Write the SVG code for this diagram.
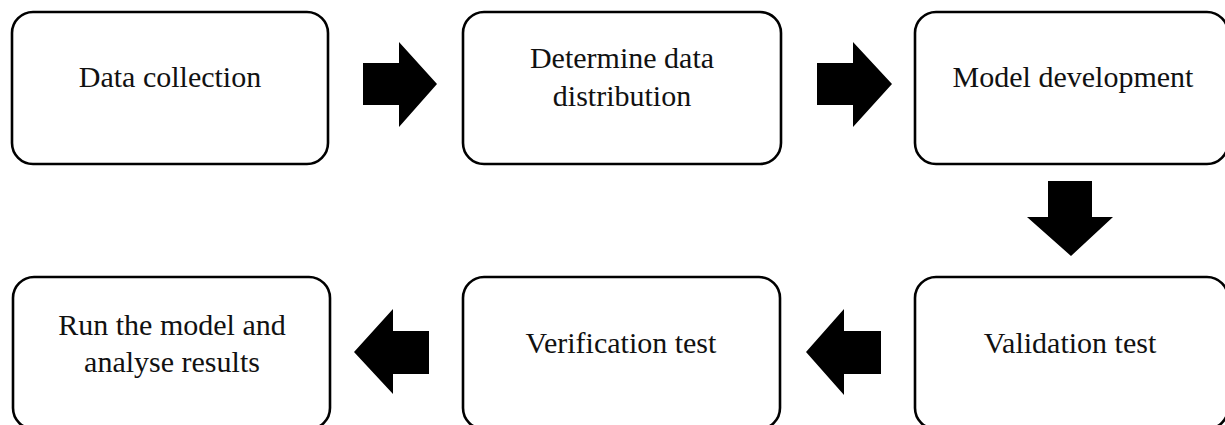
<svg xmlns="http://www.w3.org/2000/svg" width="1225" height="425" viewBox="0 0 1225 425">
  <style>
    .box { fill: #ffffff; stroke: #000000; stroke-width: 2.6; }
    .label { font-family: "Liberation Serif", "DejaVu Serif", serif; font-size: 30px; fill: #111111; text-anchor: middle; }
    .arrow { fill: #000000; stroke: none; }
  </style>
  <rect width="1225" height="425" fill="#ffffff"/>

  <!-- top row -->
  <g id="node-data-collection">
    <rect class="box" x="12" y="12" width="316" height="152" rx="21" ry="21"/>
    <text class="label" x="170" y="87">Data collection</text>
  </g>
  <g id="node-determine-distribution">
    <rect class="box" x="463" y="12" width="318" height="152" rx="21" ry="21"/>
    <text class="label" x="622" y="68">Determine data</text>
    <text class="label" x="622" y="106">distribution</text>
  </g>
  <g id="node-model-development">
    <rect class="box" x="915" y="12" width="313" height="152" rx="21" ry="21"/>
    <text class="label" x="1073" y="87">Model development</text>
  </g>

  <!-- bottom row -->
  <g id="node-run-model">
    <rect class="box" x="13" y="277" width="317" height="152" rx="21" ry="21"/>
    <text class="label" x="172" y="335">Run the model and</text>
    <text class="label" x="172" y="372">analyse results</text>
  </g>
  <g id="node-verification">
    <rect class="box" x="463" y="277" width="317" height="152" rx="21" ry="21"/>
    <text class="label" x="621" y="353">Verification test</text>
  </g>
  <g id="node-validation">
    <rect class="box" x="915" y="277" width="313" height="152" rx="21" ry="21"/>
    <text class="label" x="1070" y="353">Validation test</text>
  </g>

  <!-- block arrows between steps -->
  <g id="connectors">
    <polygon class="arrow" points="363,63 399,63 399,42 437,84 399,127 399,105 363,105"/>
    <polygon class="arrow" points="817,63 853,63 853,42 892,84 853,127 853,105 817,105"/>
    <polygon class="arrow" points="1048,181 1092,181 1092,217 1113,217 1071,256 1027,217 1048,217"/>
    <polygon class="arrow" points="881,331 844,331 844,309 806,352 844,395 844,374 881,374"/>
    <polygon class="arrow" points="429,331 393,331 393,309 354,352 393,394 393,374 429,374"/>
  </g>
</svg>
